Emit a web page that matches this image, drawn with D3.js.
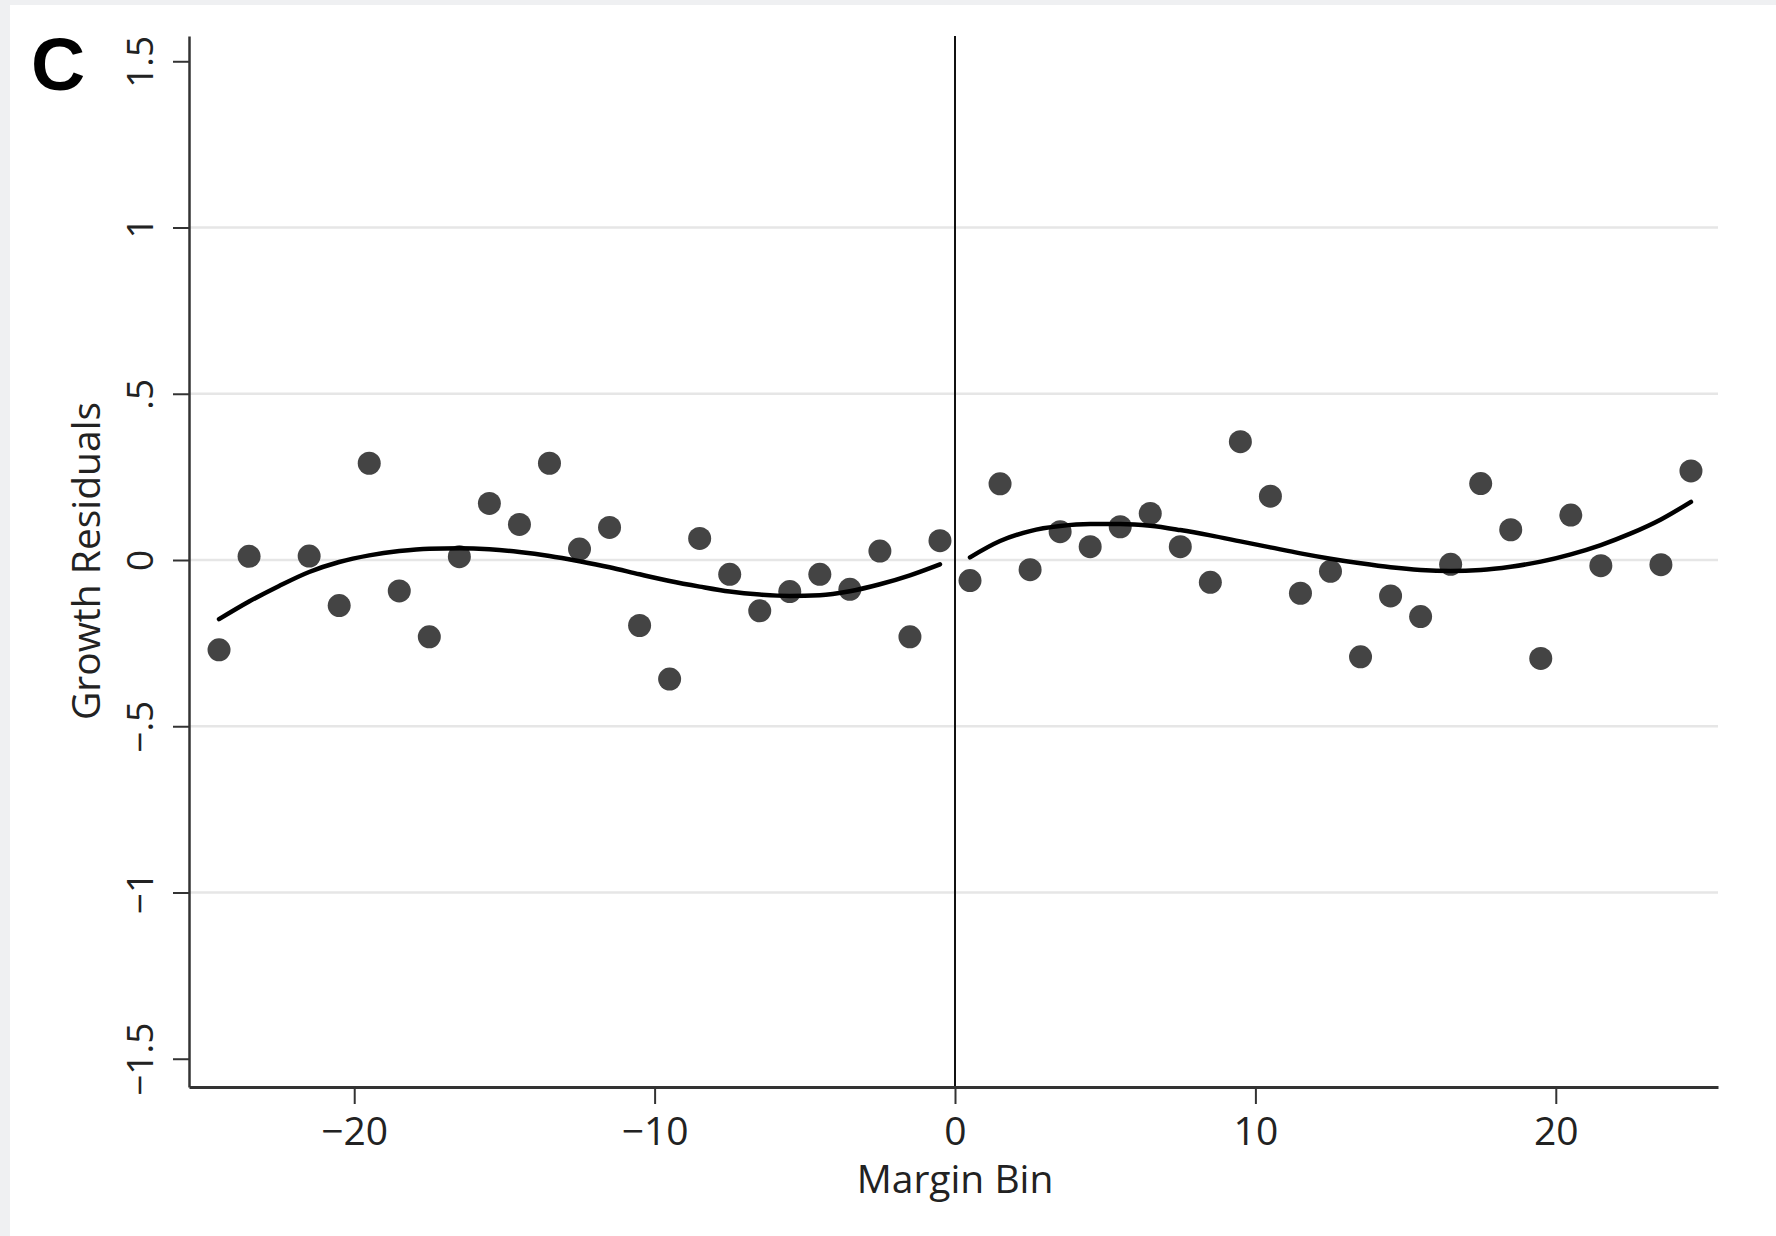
<!DOCTYPE html>
<html>
<head>
<meta charset="utf-8">
<script src="https://cdn.jsdelivr.net/npm/d3@7"></script>
<style>
  html, body { margin: 0; padding: 0; background: #eff0f2; }
  svg { display: block; }
</style>
</head>
<body>
<svg id="chart" width="1776" height="1236"></svg>
<script>
// ---- Data ----
const binsLeft = [-24.5, -23.5, -21.5, -20.5, -19.5, -18.5, -17.5, -16.5, -15.5, -14.5, -13.5, -12.5,
                  -11.5, -10.5, -9.5, -8.5, -7.5, -6.5, -5.5, -4.5, -3.5, -2.5, -1.5, -0.5];
const residLeft = [-0.270, 0.011, 0.012, -0.137, 0.291, -0.093, -0.231, 0.010, 0.170, 0.107, 0.291, 0.033,
                   0.098, -0.197, -0.358, 0.065, -0.043, -0.153, -0.095, -0.043, -0.088, 0.027, -0.231, 0.058];
const binsRight = [0.5, 1.5, 2.5, 3.5, 4.5, 5.5, 6.5, 7.5, 8.5, 9.5, 10.5, 11.5,
                   12.5, 13.5, 14.5, 15.5, 16.5, 17.5, 18.5, 19.5, 20.5, 21.5, 23.5, 24.5];
const residRight = [-0.062, 0.229, -0.029, 0.085, 0.040, 0.100, 0.140, 0.040, -0.067, 0.356, 0.192, -0.100,
                    -0.034, -0.291, -0.108, -0.170, -0.013, 0.230, 0.091, -0.296, 0.135, -0.017, -0.014, 0.268];

const fitXLeft = [-24.5, -23.5, -22.5, -21.5, -20.5, -19.5, -18.5, -17.5, -16.5, -15.5, -14.5, -13.5, -12.5,
                  -11.5, -10.5, -9.5, -8.5, -7.5, -6.5, -5.5, -4.5, -3.5, -2.5, -1.5, -0.5];
const fitYLeft = [-0.178, -0.125, -0.078, -0.036, -0.006, 0.014, 0.027, 0.034, 0.035, 0.032, 0.024, 0.012, -0.004,
                  -0.022, -0.043, -0.063, -0.080, -0.095, -0.104, -0.108, -0.106, -0.094, -0.073, -0.046, -0.013];
const fitXRight = [0.5, 1.5, 2.5, 3.5, 4.5, 5.5, 6.5, 7.5, 8.5, 9.5, 10.5, 11.5, 12.5,
                   13.5, 14.5, 15.5, 16.5, 17.5, 18.5, 19.5, 20.5, 21.5, 22.5, 23.5, 24.5];
const fitYRight = [0.008, 0.057, 0.087, 0.102, 0.108, 0.108, 0.103, 0.090, 0.074, 0.056, 0.038, 0.020, 0.004,
                   -0.010, -0.022, -0.030, -0.033, -0.030, -0.020, -0.005, 0.017, 0.045, 0.080, 0.122, 0.175];

const xTicks = [-20, -10, 0, 10, 20];
const xTickLabels = ["\u221220", "\u221210", "0", "10", "20"];
const yTicks = [-1.5, -1, -0.5, 0, 0.5, 1, 1.5];
const yTickLabels = ["\u22121.5", "\u22121", "\u2212.5", "0", ".5", "1", "1.5"];
const gridValues = [-1, -0.5, 0, 0.5, 1];

const xTitle = "Margin Bin";
const yTitle = "Growth Residuals";
const panelLabel = "C";

// ---- Layout ----
const svg = d3.select("#chart");
const font = "'Open Sans', 'Noto Sans', sans-serif";

svg.append("rect").attr("x", 10).attr("y", 5).attr("width", 1766).attr("height", 1231).attr("fill", "#ffffff");

const x = d3.scaleLinear().domain([-25.5, 25.4]).range([189, 1718]);
const y = d3.scaleLinear().domain([-1.585, 1.576]).range([1087, 36]);

// gridlines
svg.append("g").selectAll("line").data(gridValues).join("line")
  .attr("x1", x.range()[0]).attr("x2", x.range()[1])
  .attr("y1", d => y(d)).attr("y2", d => y(d))
  .attr("stroke", "#e6e6e6").attr("stroke-width", 2.5);

// vertical line at 0
svg.append("line")
  .attr("x1", x(0)).attr("x2", x(0))
  .attr("y1", y.range()[1]).attr("y2", y.range()[0])
  .attr("stroke", "#111").attr("stroke-width", 2);

// points
const pts = binsLeft.map((b, i) => [b, residLeft[i]]).concat(binsRight.map((b, i) => [b, residRight[i]]));
svg.append("g").selectAll("circle").data(pts).join("circle")
  .attr("cx", d => x(d[0])).attr("cy", d => y(d[1])).attr("r", 11.5)
  .attr("fill", "#444444");

// fit lines
const line = d3.line().x(d => x(d[0])).y(d => y(d[1])).curve(d3.curveMonotoneX);
[[fitXLeft, fitYLeft], [fitXRight, fitYRight]].forEach(([xs, ys]) => {
  svg.append("path")
    .datum(xs.map((v, i) => [v, ys[i]]))
    .attr("d", line)
    .attr("fill", "none").attr("stroke", "#000").attr("stroke-width", 4.5)
    .attr("stroke-linecap", "round");
});

// x axis
const xAxis = svg.append("g").attr("transform", `translate(0,${y.range()[0]})`)
  .call(d3.axisBottom(x).tickValues(xTicks).tickSize(17).tickSizeOuter(0)
        .tickFormat((d, i) => xTickLabels[i]));
xAxis.select(".domain").attr("stroke", "#333").attr("stroke-width", 3);
xAxis.selectAll(".tick line").attr("stroke", "#333").attr("stroke-width", 2);
xAxis.selectAll(".tick text").attr("y", 58).attr("dy", 0)
  .attr("font-family", font).attr("font-size", 39).attr("fill", "#222");

// y axis
const yAxis = svg.append("g").attr("transform", `translate(${x.range()[0]},0)`)
  .call(d3.axisLeft(y).tickValues(yTicks).tickSize(16).tickSizeOuter(0)
        .tickFormat((d, i) => yTickLabels[i]));
yAxis.select(".domain").attr("stroke", "#333").attr("stroke-width", 2.5);
yAxis.selectAll(".tick line").attr("stroke", "#333").attr("stroke-width", 2);
yAxis.selectAll(".tick text")
  .attr("x", null).attr("dy", 0)
  .attr("transform", "translate(-36,0) rotate(-90)")
  .attr("text-anchor", "middle")
  .attr("font-family", font).attr("font-size", 37).attr("fill", "#222");

// titles
svg.append("text")
  .attr("x", 955).attr("y", 1193)
  .attr("text-anchor", "middle")
  .attr("font-family", font).attr("font-size", 39).attr("fill", "#222")
  .text(xTitle);

svg.append("text")
  .attr("transform", "translate(100,561) rotate(-90)")
  .attr("text-anchor", "middle")
  .attr("font-family", font).attr("font-size", 39).attr("fill", "#222")
  .text(yTitle);

svg.append("text")
  .attr("x", 31).attr("y", 90)
  .attr("font-family", "'Liberation Sans', Arial, sans-serif").attr("font-weight", "bold")
  .attr("font-size", 75).attr("fill", "#000")
  .text(panelLabel);
</script>
</body>
</html>
